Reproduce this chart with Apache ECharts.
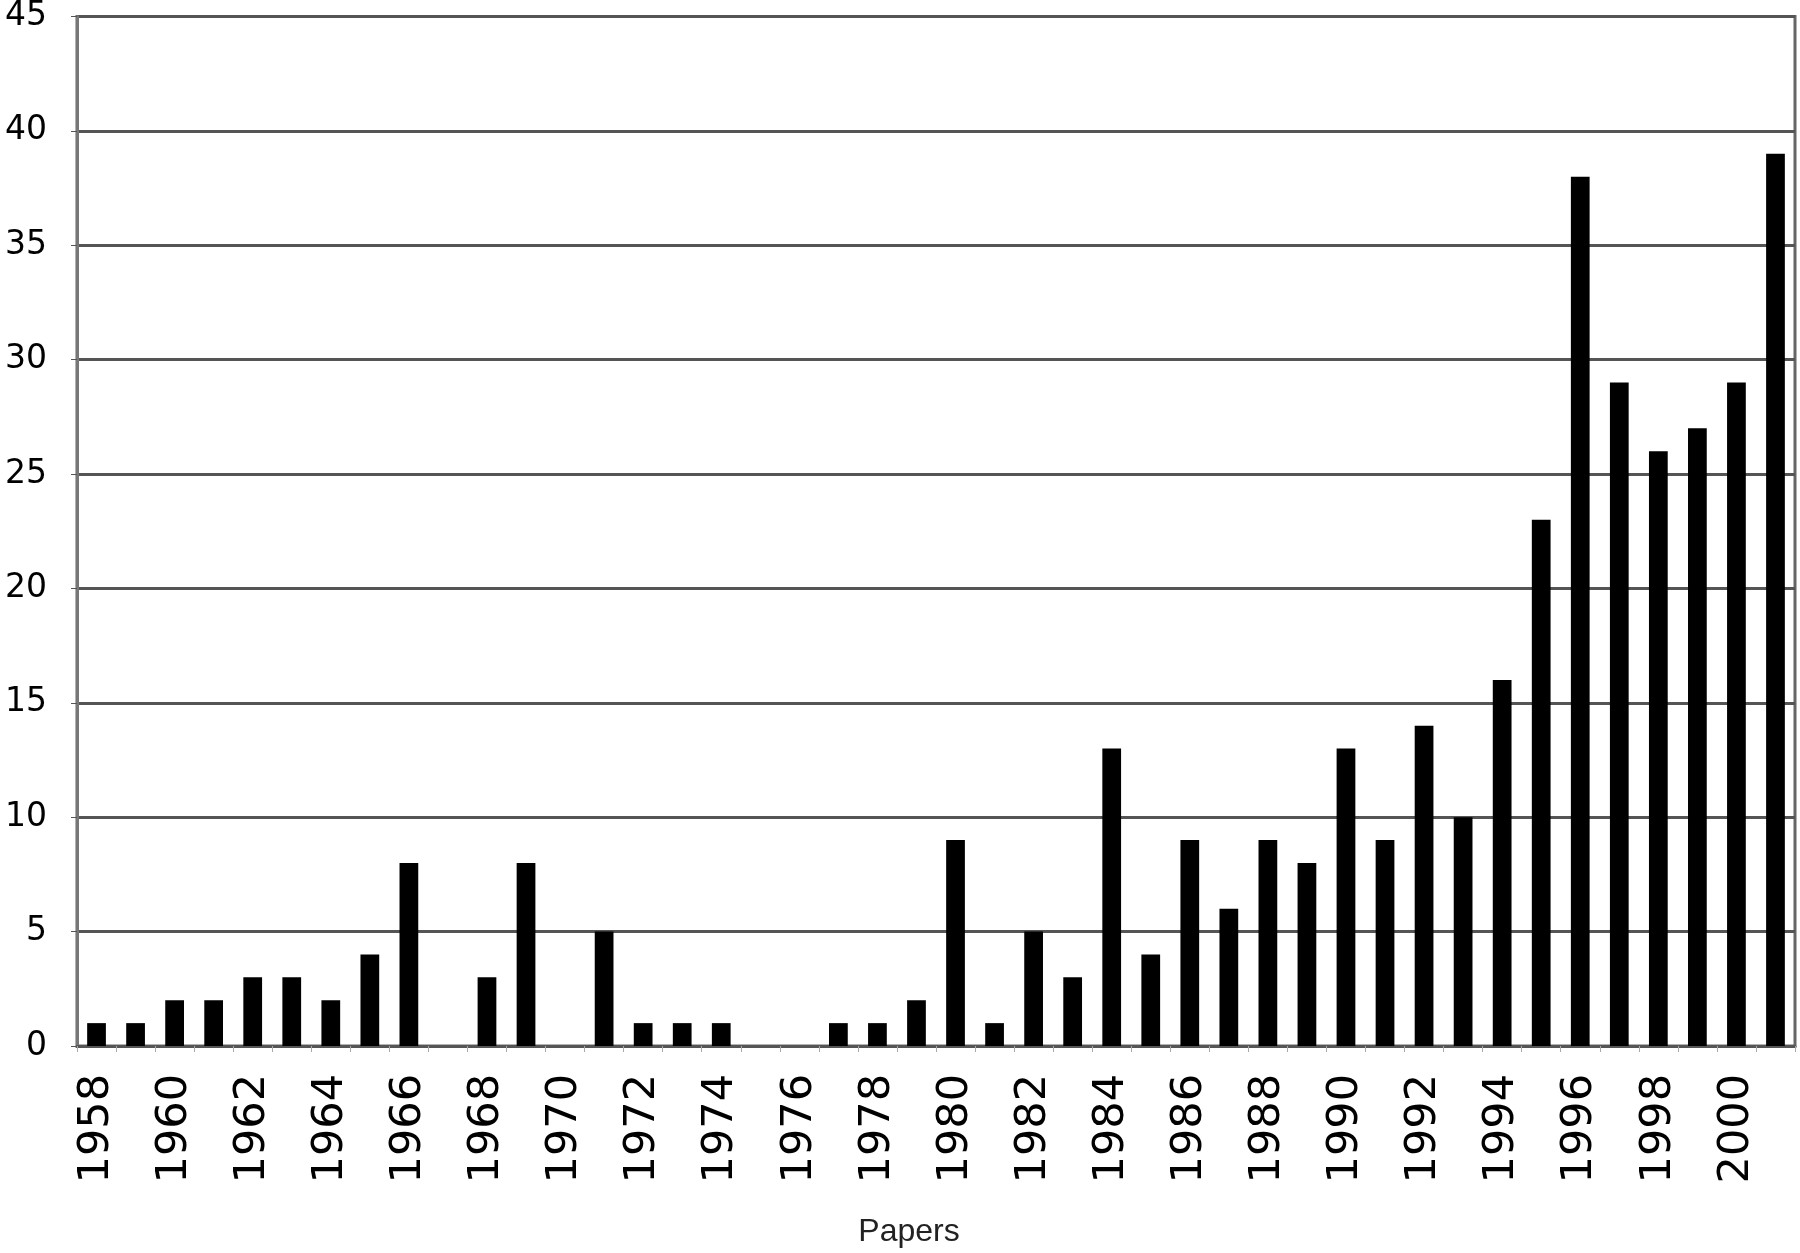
<!DOCTYPE html>
<html>
<head>
<meta charset="utf-8">
<script src="https://cdn.jsdelivr.net/npm/echarts@6/dist/echarts.min.js"></script>
<style>html,body{margin:0;padding:0;background:#fff}#c{width:1800px;height:1253px}</style>
</head>
<body>
<div id="c"></div>
<script>
const years = ['1958','1959','1960','1961','1962','1963','1964','1965','1966','1967','1968','1969','1970','1971','1972','1973','1974','1975','1976','1977','1978','1979','1980','1981','1982','1983','1984','1985','1986','1987','1988','1989','1990','1991','1992','1993','1994','1995','1996','1997','1998','1999','2000','2001'];
const papers = [1,1,2,2,3,3,2,4,8,0,3,8,0,5,1,1,1,0,0,1,1,2,9,1,5,3,13,4,9,6,9,8,13,9,14,10,16,23,38,29,26,27,29,39];
const yTicks = [0,5,10,15,20,25,30,35,40,45];

const chart = echarts.init(document.getElementById('c'));
chart.setOption({
  backgroundColor: '#fff',
  animation: false,
  grid: {left: 77, right: 5, top: 14, bottom: 206, show: true, borderColor: '#666', borderWidth: 3},
  xAxis: {
    type: 'category',
    data: years,
    name: 'Papers',
    nameLocation: 'middle',
    nameGap: 170,
    nameTextStyle: {fontFamily: 'Liberation Sans', fontSize: 32, color: '#222', padding: [0, 54, 0, 0]},
    axisLine: {lineStyle: {color: '#555', width: 3}},
    axisTick: {show: true, interval: 0, length: 6, lineStyle: {color: '#aaa', width: 1}},
    axisLabel: {interval: 1, rotate: 90, margin: 28, fontFamily: 'DejaVu Sans', fontSize: 43, color: '#000'}
  },
  yAxis: {
    type: 'value',
    min: yTicks[0],
    max: yTicks[yTicks.length - 1],
    interval: 5,
    axisLine: {show: true, lineStyle: {color: '#777', width: 3}},
    axisTick: {show: true, length: 6, lineStyle: {color: '#555'}},
    splitLine: {lineStyle: {color: '#555', width: 3}},
    axisLabel: {margin: 30, fontFamily: 'DejaVu Sans', fontSize: 33, color: '#000'}
  },
  series: [{
    type: 'bar',
    data: papers,
    barWidth: '48%',
    itemStyle: {color: '#000'}
  }]
});
</script>
</body>
</html>
